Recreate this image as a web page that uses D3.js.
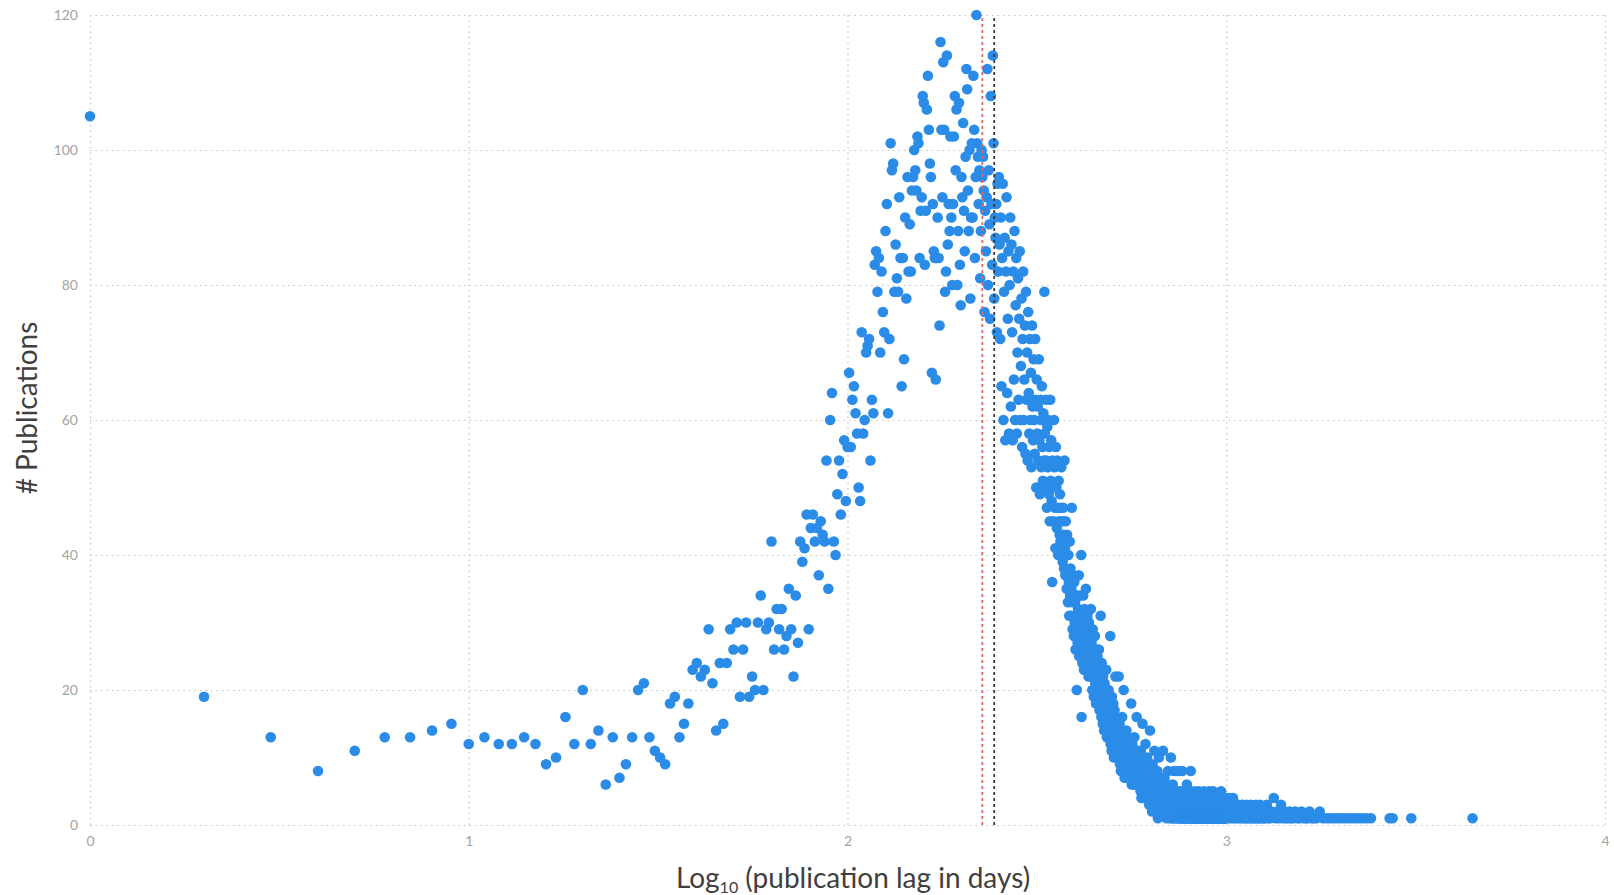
<!DOCTYPE html>
<html>
<head>
<meta charset="utf-8">
<script src="https://cdn.jsdelivr.net/npm/d3@7"></script>
<style>
  body { margin: 0; background: #fff; }
  text { font-family: Lato, "Open Sans", sans-serif; }
</style>
</head>
<body>
<script>
var width = 1614,
    height = 895;

// publication lag in days (x) and number of publications with that lag (y)
var lagDays = [
  1,2,3,4,5,6,7,8,9,10,11,12,13,14,15,16,17,18,19,20,
  21,22,23,24,25,26,27,28,29,30,31,32,33,34,35,36,37,38,39,40,
  41,42,43,44,45,46,47,48,49,50,51,52,53,54,55,56,57,58,59,60,
  61,62,63,64,65,66,67,68,69,70,71,72,73,74,75,76,77,78,79,80,
  81,82,83,84,85,86,87,88,89,90,91,92,93,94,95,96,97,98,99,100,
  101,102,103,104,105,106,107,108,109,110,111,112,113,114,115,116,117,118,119,120,
  121,122,123,124,125,126,127,128,129,130,131,132,133,134,135,136,137,138,139,140,
  141,142,143,144,145,146,147,148,149,150,151,152,153,154,155,156,157,158,159,160,
  161,162,163,164,165,166,167,168,169,170,171,172,173,174,175,176,177,178,179,180,
  181,182,183,184,185,186,187,188,189,190,191,192,193,194,195,196,197,198,199,200,
  201,202,203,204,205,206,207,208,209,210,211,212,213,214,215,216,217,218,219,220,
  221,222,223,224,225,226,227,228,229,230,231,232,233,234,235,236,237,238,239,240,
  241,242,243,244,245,246,247,248,249,250,251,252,253,254,255,256,257,258,259,260,
  261,262,263,264,265,266,267,268,269,270,271,272,273,274,275,276,277,278,279,280,
  281,282,283,284,285,286,287,288,289,290,291,292,293,294,295,296,297,298,299,300,
  301,302,303,304,305,306,307,308,309,310,311,312,313,314,315,316,317,318,319,320,
  321,322,323,324,325,326,327,328,329,330,331,332,333,334,335,336,337,338,339,340,
  341,342,343,344,345,346,347,348,349,350,351,352,353,354,355,356,357,358,359,360,
  361,362,363,364,365,366,367,368,369,370,371,372,373,374,375,376,377,378,379,380,
  381,382,383,384,385,386,387,388,389,390,391,392,393,394,395,396,397,398,399,400,
  401,402,403,404,405,406,407,408,409,410,411,412,413,414,415,416,417,418,419,420,
  421,422,423,424,425,426,427,428,429,430,431,432,433,434,435,436,437,438,439,440,
  441,442,443,444,445,446,447,448,449,450,451,452,453,454,455,456,457,458,459,460,
  461,462,463,464,465,466,467,468,469,470,471,472,473,474,475,476,477,478,479,480,
  481,482,483,484,485,486,487,488,489,490,491,492,493,494,495,496,497,498,499,500,
  501,502,503,504,505,506,507,508,509,510,511,512,513,514,515,516,517,518,519,520,
  521,522,523,524,525,526,527,528,529,530,531,532,533,534,535,536,537,538,539,540,
  541,542,543,544,545,546,547,548,549,550,551,552,553,554,555,556,557,558,559,560,
  561,562,563,564,565,566,567,568,569,570,571,572,573,574,575,576,577,578,579,580,
  581,582,583,584,585,586,587,588,589,590,591,592,593,594,595,596,597,598,599,600,
  601,602,603,604,605,606,607,608,609,610,611,612,613,614,615,616,617,618,619,620,
  621,622,623,624,625,626,627,628,629,630,631,632,633,634,635,636,637,638,639,640,
  641,642,643,644,645,646,647,648,649,650,651,652,653,654,655,656,657,658,659,660,
  661,662,663,664,665,666,667,668,669,670,671,672,673,674,675,676,677,678,679,680,
  681,682,683,684,685,686,687,688,689,690,691,692,693,694,695,696,697,698,699,700,
  701,702,703,704,705,706,707,708,709,710,711,712,713,714,715,716,717,718,719,720,
  721,722,723,724,725,726,727,728,729,730,731,732,733,734,735,736,737,738,739,740,
  741,742,743,744,745,746,747,748,749,750,751,752,753,754,755,756,757,758,759,760,
  761,762,763,764,765,766,767,768,769,770,771,772,773,774,775,776,777,778,779,780,
  781,782,783,784,785,786,787,788,789,790,791,792,793,794,795,796,797,798,799,800,
  801,802,803,804,805,806,807,808,809,810,811,812,813,814,815,816,817,818,819,820,
  821,822,823,824,825,826,827,828,829,830,831,832,833,834,835,836,837,838,839,840,
  841,842,843,844,845,846,847,848,849,850,851,852,853,854,855,856,857,858,859,860,
  861,862,863,864,865,866,867,868,869,870,871,872,873,874,875,876,877,878,879,880,
  881,882,883,884,885,886,887,888,889,890,891,892,893,894,895,896,897,898,899,900,
  901,902,903,904,905,906,907,908,909,910,911,912,913,914,915,916,917,918,919,920,
  921,922,923,924,925,926,927,928,929,930,931,932,933,934,935,936,937,938,939,940,
  941,942,943,944,945,946,947,948,949,950,951,952,953,954,955,956,957,958,959,960,
  961,962,963,964,965,966,967,968,969,970,971,972,973,974,975,976,977,978,979,980,
  981,982,983,984,985,986,987,988,989,990,991,992,993,994,995,996,997,998,999,1000
];

var pubCounts = [
  105,19,13,8,11,13,13,14,15,12,
  13,12,12,13,12,9,10,16,12,20,
  12,14,6,13,7,9,13,20,21,13,
  11,10,9,18,19,13,15,18,23,24,
  22,23,29,21,14,24,15,24,29,26,
  30,19,26,30,19,22,20,30,34,20,
  29,30,42,26,32,29,32,26,28,35,
  29,22,34,27,42,39,41,46,29,44,
  46,42,44,37,45,43,42,54,35,60,
  64,42,40,49,54,46,52,57,48,56,
  67,56,63,65,61,58,50,48,73,58,
  60,70,71,72,54,63,61,83,85,79,
  84,70,82,76,73,88,92,61,72,101,
  97,98,79,86,81,79,93,84,65,84,
  69,90,78,96,82,89,82,94,96,100,
  97,94,102,101,84,91,93,108,107,83,
  91,106,111,103,98,96,67,92,85,84,
  66,84,90,84,74,116,103,93,113,103,
  79,82,114,86,92,88,102,90,80,92,
  102,108,97,106,80,88,107,83,77,96,
  93,104,91,85,99,112,109,94,88,100,
  78,90,101,90,111,103,84,96,120,101,
  99,92,97,81,88,100,96,99,94,76,
  91,85,93,112,80,97,89,75,108,92,
  83,114,101,78,90,87,92,73,95,82,
  96,86,72,90,65,84,95,60,79,87,
  57,82,93,64,75,85,58,80,90,62,
  86,73,57,82,66,88,60,77,84,58,
  70,81,63,75,85,60,68,78,56,72,
  82,60,66,74,55,79,63,70,54,76,
  64,58,72,60,67,53,74,62,57,69,
  60,55,72,63,50,66,58,62,54,69,
  57,49,63,60,53,65,56,51,61,54,
  79,58,50,63,54,47,59,53,60,49,
  56,45,63,51,57,48,36,54,50,45,
  60,53,47,41,56,50,44,54,47,40,
  51,45,43,49,42,47,53,41,45,39,
  47,43,38,54,41,37,45,40,35,43,
  37,33,40,36,31,42,34,38,31,35,
  47,33,29,37,34,28,36,30,33,26,
  31,29,20,34,27,32,29,37,25,30,
  28,34,26,40,16,31,24,29,34,26,
  23,32,27,29,25,35,23,28,26,31,
  24,27,22,30,25,28,23,26,32,22,
  27,24,20,29,23,26,19,25,22,28,
  21,24,18,26,22,20,25,19,23,21,
  26,20,17,23,19,31,21,16,24,18,
  20,15,22,17,19,14,21,18,16,20,
  15,23,17,13,19,16,18,14,20,15,
  18,13,16,28,12,17,15,11,19,14,
  16,12,18,13,10,15,17,12,14,22,
  13,11,16,12,14,10,15,13,11,22,
  13,10,15,9,12,14,8,11,13,9,
  16,10,12,8,11,20,9,13,7,10,
  12,8,11,9,14,7,10,12,8,11,
  9,13,7,10,8,12,9,7,11,8,
  18,10,6,9,12,7,10,8,11,6,
  9,13,7,10,8,6,11,9,7,16,
  8,10,6,9,7,11,8,6,10,7,
  9,6,8,5,11,7,4,9,6,8,
  15,5,7,10,6,4,8,6,9,5,
  7,12,6,4,8,5,7,10,5,6,
  7,4,6,9,5,3,7,5,14,6,
  4,8,3,6,5,7,2,5,9,4,
  6,3,5,7,4,11,3,6,4,5,
  3,6,4,7,2,5,3,8,4,1,
  6,3,5,10,2,4,6,3,5,2,
  4,7,3,5,2,4,3,6,2,4,
  11,3,5,2,4,3,7,2,4,3,
  5,2,3,6,1,4,3,5,2,4,
  3,8,2,3,5,2,4,3,1,5,
  3,2,4,10,3,2,5,1,3,4,
  2,6,3,1,4,2,3,8,2,4,
  1,3,2,5,3,2,4,1,3,2,
  3,5,2,1,4,2,3,8,1,3,
  2,4,1,3,2,5,1,2,3,1,
  4,2,1,3,8,2,1,3,2,4,
  1,2,3,1,2,5,1,3,2,1,
  2,4,1,3,2,1,6,2,1,3,
  2,1,2,4,1,2,3,1,2,5,
  1,2,3,1,2,8,1,2,3,1,
  2,1,3,1,2,4,1,2,1,3,2,1,5,1,2,3,1,2,1,4,
  1,2,3,1,1,2,4,1,2,1,3,1,2,1,5,2,1,3,1,2,
  1,4,2,1,3,1,2,1,2,3,1,1,4,2,1,2,1,3,1,2,
  1,2,5,1,3,1,2,1,2,4,1,1,2,3,1,2,1,1,3,2,
  1,2,1,4,1,2,3,1,1,2,1,5,2,1,3,1,2,1,1,2,
  3,1,2,1,4,1,1,2,3,1,2,1,5,1,2,1,3,1,1,2,
  1,2,4,1,1,3,2,1,2,1,1,3,1,2,4,1,1,2,1,3,
  1,2,1,1,3,2,1,4,1,2,1,1,2,3,1,1,2,1,5,1,
  2,1,3,1,1,2,1,2,4,1,1,2,1,3,1,2,1,1,2,3,
  1,2,1,4,1,1,2,1,3,2
];

// long tail beyond 1000 days
var tailDays = [
  1006,1012,1018,1024,1030,1036,1042,1048,1054,1060,1066,1072,1078,1084,1090,1096,
  1102,1108,1114,1120,1126,1132,1138,1144,1150,1156,1162,1168,1174,1180,1186,1192,
  1198,1204,1210,1216,1222,1228,1234,1240,1248,1256,1264,1272,1280,1288,1296,
  1305,1320,1335,1350,1365,1380,1395,1410,1425,1440,1455,1470,1485,1500,1520,1540,
  1560,1580,1600,1620,1640,1660,1680,1700,
  1730,1765,1800,1840,1880,1920,1960,2000,2045,2090,2140,2190,2240,2290,2350,2410,
  2700,2750,3080,4470
];
var tailCounts = [
  2,4,1,3,2,1,4,2,1,3,1,2,3,1,2,1,
  3,2,1,2,1,3,1,2,1,2,3,1,2,1,1,2,
  3,1,2,1,1,3,2,1,2,1,1,2,3,1,2,
  1,2,4,1,2,1,3,1,2,1,1,2,1,1,2,1,
  1,2,1,1,1,2,1,1,
  1,2,1,1,1,1,1,1,1,1,1,1,1,1,1,1,
  1,1,1,1
];

var medianLag = 227,
    meanLag = 244;

var xTicks = [1, 10, 100, 1000, 10000];
var yTicks = [0, 20, 40, 60, 80, 100, 120];

var x = d3.scaleLog()
          .domain([1, 10000])
          .range([90, 1605]);
var y = d3.scaleLinear()
          .domain([0, 120])
          .range([825, 15]);

var svg = d3.select("body").append("svg")
    .attr("width", width)
    .attr("height", height);

// dotted grid
svg.append("g")
    .attr("transform", "translate(0,825)")
    .call(d3.axisBottom(x).tickValues(xTicks).tickSize(-810).tickFormat(""))
    .call(g => g.select(".domain").remove())
    .selectAll("line")
    .attr("stroke", "#c4c4c4")
    .attr("stroke-width", 1.2)
    .attr("stroke-dasharray", "1.5,4");

svg.append("g")
    .attr("transform", "translate(90,0)")
    .call(d3.axisLeft(y).tickValues(yTicks).tickSize(-1515).tickFormat(""))
    .call(g => g.select(".domain").remove())
    .selectAll("line")
    .attr("stroke", "#c4c4c4")
    .attr("stroke-width", 1.2)
    .attr("stroke-dasharray", "1.5,4");

// tick labels
var xAxis = svg.append("g")
    .attr("transform", "translate(0,825)")
    .call(d3.axisBottom(x).tickValues(xTicks).tickSize(0).tickPadding(11)
          .tickFormat(d => Math.round(Math.log10(d))));
var yAxis = svg.append("g")
    .attr("transform", "translate(90,0)")
    .call(d3.axisLeft(y).tickValues(yTicks).tickSize(0).tickPadding(12));

[xAxis, yAxis].forEach(function(g) {
  g.select(".domain").remove();
  g.selectAll("text")
    .attr("fill", "#a3a3a3")
    .attr("font-size", 14)
    .style("font-family", "Lato, 'Open Sans', sans-serif");
});

// points
var points = lagDays.map(function(d, i) { return {day: d, n: pubCounts[i]}; })
    .concat(tailDays.map(function(d, i) { return {day: d, n: tailCounts[i]}; }))
    .filter(function(d) { return d.n !== undefined; });

svg.selectAll(".dot")
    .data(points)
    .enter()
    .append("circle")
    .attr("class", "dot")
    .attr("cx", function(d) { return x(d.day); })
    .attr("cy", function(d) { return y(d.n); })
    .attr("r", 5.3)
    .attr("fill", "#2b8ce8");

// median and mean lines
svg.append("line")
    .attr("x1", x(medianLag)).attr("x2", x(medianLag))
    .attr("y1", y(0)).attr("y2", y(120))
    .attr("stroke", "#e06666")
    .attr("stroke-width", 1.8)
    .attr("stroke-dasharray", "3,3");

svg.append("line")
    .attr("x1", x(meanLag)).attr("x2", x(meanLag))
    .attr("y1", y(0)).attr("y2", y(120))
    .attr("stroke", "#3a3a3a")
    .attr("stroke-width", 1.8)
    .attr("stroke-dasharray", "3,3");

// axis titles
var xTitle = svg.append("text")
    .attr("x", 853)
    .attr("y", 888)
    .attr("text-anchor", "middle")
    .attr("fill", "#404040")
    .attr("font-size", 28);
xTitle.append("tspan").text("Log");
xTitle.append("tspan").attr("font-size", 16).attr("dy", 5).text("10");
xTitle.append("tspan").attr("dy", -5).text(" (publication lag in days)");

svg.append("text")
    .attr("transform", "translate(37,408) rotate(-90)")
    .attr("text-anchor", "middle")
    .attr("fill", "#404040")
    .attr("font-size", 28)
    .text("# Publications");
</script>
</body>
</html>
